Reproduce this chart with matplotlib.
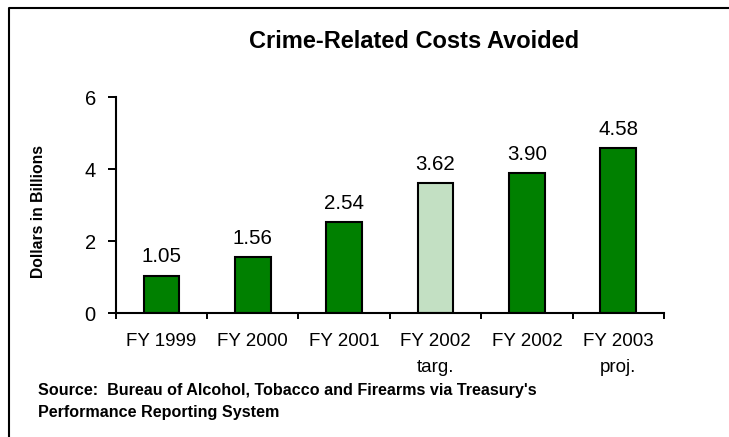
import matplotlib
matplotlib.use('Agg')
import matplotlib.pyplot as plt
from matplotlib.lines import Line2D

plt.rcParams['font.family'] = ['Liberation Sans', 'DejaVu Sans']

# data
categories = ['FY 1999', 'FY 2000', 'FY 2001', 'FY 2002\ntarg.', 'FY 2002', 'FY 2003\nproj.']
values = [1.05, 1.56, 2.54, 3.62, 3.90, 4.58]
value_labels = ['1.05', '1.56', '2.54', '3.62', '3.90', '4.58']
is_target = [False, False, False, True, False, False]

dark_green = '#008000'
light_green = '#c3e0c3'

W, H = 729, 437
fig = plt.figure(figsize=(W / 100, H / 100), dpi=100)
ax = fig.add_axes([115.7 / W, 1 - 313.3 / H, (664 - 115.7) / W, 216 / H])

x = list(range(len(categories)))
colors = [light_green if t else dark_green for t in is_target]
bars = ax.bar(x, values, width=0.39, color=colors, edgecolor='black', linewidth=1.5)

for xi, v, lab in zip(x, values, value_labels):
    ax.annotate(lab, (xi, v), xytext=(0, 9.5), textcoords='offset points',
                ha='center', va='baseline', fontsize=14.8)

ax.set_xlim(-0.5, len(categories) - 0.5)
ax.set_ylim(0, 6)
ax.set_yticks([0, 2, 4, 6])
ax.tick_params(axis='y', labelsize=14.5, length=5.8, width=1.4, pad=8.5, direction='out')

# boundary ticks, labels in between
ax.set_xticks([i - 0.5 for i in range(len(categories) + 1)])
ax.set_xticklabels([])
ax.set_xticks(x, minor=True)
ax.set_xticklabels(categories, minor=True, fontsize=13.5, linespacing=1.65)
ax.tick_params(axis='x', which='major', length=4.5, width=1.4, direction='out')
ax.tick_params(axis='x', which='minor', length=0, pad=14.5)

for side in ['top', 'right']:
    ax.spines[side].set_visible(False)
for side in ['left', 'bottom']:
    ax.spines[side].set_linewidth(1.5)

fig.text(414 / W, 1 - 42 / H, 'Crime-Related Costs Avoided', ha='center', va='center',
         fontsize=17, fontweight='bold')
fig.text(39 / W, 1 - 211 / H, 'Dollars in Billions', rotation=90, ha='center', va='center',
         fontsize=11.3, fontweight='bold')
fig.text(38 / W, 1 - 391 / H, "Source:  Bureau of Alcohol, Tobacco and Firearms via Treasury's",
         ha='left', va='center', fontsize=11.6, fontweight='bold')
fig.text(38 / W, 1 - 413 / H, 'Performance Reporting System',
         ha='left', va='center', fontsize=11.6, fontweight='bold')

# frame (only left and top edges fall inside the picture)
fig.add_artist(Line2D([9 / W, 9 / W, 1], [0, 1 - 8 / H, 1 - 8 / H],
                      transform=fig.transFigure, color='black', linewidth=1.5))

fig.savefig('out.png', dpi=100)
